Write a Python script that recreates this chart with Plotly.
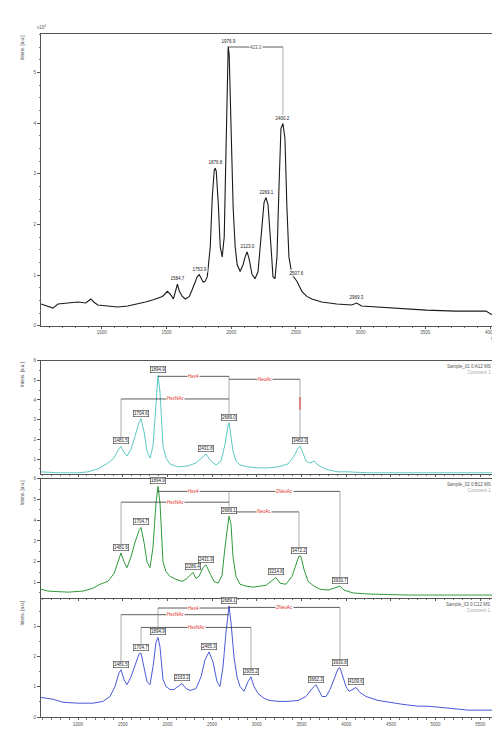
import plotly.graph_objects as go

# ---------------- top spectrum (black) ----------------
top_mz = [530.8, 584.6, 623.1, 661.5, 738.5, 815.4, 876.9, 915.4, 938.5, 969.2, 1046.2, 1123.1,
          1200, 1276.9, 1338.5, 1392.3, 1430.8, 1469.2, 1507.7, 1530.8, 1553.8, 1569.2, 1584.6,
          1600, 1623.1, 1646.2, 1676.9, 1700, 1723.1, 1738.5, 1753.8, 1769.2, 1784.6, 1800,
          1815.4, 1838.5, 1853.8, 1869.2, 1876.9, 1884.6, 1900, 1915.4, 1930.8, 1946.2, 1961.5,
          1969.2, 1976.9, 1984.6, 2000, 2015.4, 2030.8, 2046.2, 2069.2, 2092.3, 2107.7, 2123.1,
          2138.5, 2161.5, 2184.6, 2207.7, 2230.8, 2253.8, 2269.2, 2284.6, 2307.7, 2323.1, 2338.5,
          2353.8, 2369.2, 2384.6, 2400, 2415.4, 2430.8, 2446.2, 2469.2, 2492.3, 2507.7, 2523.1,
          2546.2, 2584.6, 2623.1, 2700, 2815.4, 2930.8, 2969.2, 3007.7, 3123.1, 3276.9, 3507.7,
          3738.5, 3892.3, 3969.2, 4007.7, 4076.9]
top_int = [0.43, 0.39, 0.35, 0.43, 0.45, 0.47, 0.45, 0.53, 0.47, 0.41, 0.39, 0.37,
           0.39, 0.43, 0.47, 0.51, 0.54, 0.58, 0.68, 0.62, 0.53, 0.66, 0.82,
           0.68, 0.58, 0.53, 0.58, 0.72, 0.88, 0.97, 1.01, 0.93, 0.86, 0.88,
           0.97, 1.56, 2.53, 3.07, 3.11, 3.05, 2.43, 1.56, 1.36, 1.75, 3.89,
           5.06, 5.51, 5.35, 3.89, 2.33, 1.56, 1.21, 1.07, 1.21, 1.36, 1.46,
           1.32, 1.01, 0.93, 1.07, 1.75, 2.43, 2.53, 2.39, 1.56, 0.97, 0.93,
           1.36, 2.72, 3.89, 3.99, 3.70, 2.33, 1.36, 1.01, 0.93, 0.88, 0.80,
           0.68, 0.58, 0.53, 0.47, 0.43, 0.41, 0.45, 0.39, 0.37, 0.35, 0.31,
           0.29, 0.29, 0.29, 0.23, 0.21]
top_peak_mz = [1584.6, 1753.8, 1876.9, 1976.9, 2123.1, 2269.2, 2400.0, 2507.7, 2969.2]
top_peak_int = [0.82, 1.01, 3.11, 5.51, 1.46, 2.53, 3.99, 0.93, 0.45]
top_peak_txt = ["1584.7", "1753.9", "1876.8", "1976.9", "2123.0", "2269.1", "2400.2", "2507.6", "2969.3"]
top_brackets = [(1976.9, 2400.0, 5.50, "423.3")]
top_drops = [(2400.0, 5.50, 4.15)]
top_xticks = [1000, 1500, 2000, 2500, 3000, 3500, 4000]

# ---------------- lower spectra (shared m/z axis) ----------------
low_xticks = [1000, 1500, 2000, 2500, 3000, 3500, 4000, 4500, 5000, 5500]

cyan_mz = [586.1, 776.3, 1000, 1111.9, 1223.7, 1335.6, 1402.7, 1447.4, 1481, 1514.6, 1548.1,
           1592.9, 1637.6, 1682.3, 1704.7, 1738.3, 1771.8, 1805.4, 1839, 1872.5, 1894.9, 1917.3,
           1950.8, 1984.4, 2029.1, 2118.6, 2230.5, 2320, 2375.9, 2431.8, 2487.7, 2543.7, 2599.6,
           2644.3, 2677.9, 2689.1, 2700.3, 2733.8, 2767.4, 2812.1, 2901.6, 3013.5, 3125.3, 3237.2,
           3349.1, 3416.2, 3460.9, 3483.3, 3516.9, 3550.4, 3595.2, 3639.9, 3684.6, 3740.6, 3796.5,
           3908.4, 4020.2, 4243.9, 4691.4, 5250.7, 5698.1]
cyan_int = [0.35, 0.30, 0.30, 0.35, 0.50, 0.80, 1.05, 1.45, 1.65, 1.35, 1.15,
            1.50, 2.15, 2.85, 3.05, 2.40, 1.40, 1.05, 1.65, 3.90, 5.25, 4.40,
            1.65, 1.05, 0.75, 0.60, 0.65, 0.80, 1.05, 1.25, 0.90, 0.70, 0.90,
            1.75, 2.70, 2.85, 2.50, 1.40, 0.90, 0.70, 0.60, 0.55, 0.55, 0.60,
            0.75, 1.15, 1.55, 1.65, 1.30, 0.90, 0.80, 0.90, 0.70, 0.55, 0.45,
            0.35, 0.35, 0.30, 0.30, 0.30, 0.30]
cyan_peak_mz = [1481.0, 1704.7, 1894.9, 2431.8, 2689.1, 3483.3]
cyan_peak_int = [1.65, 3.05, 5.25, 1.25, 2.85, 1.65]
cyan_peak_txt = ["1481.5", "1704.6", "1894.9", "2431.8", "2689.0", "3483.3"]
cyan_brackets = [(1894.9, 2689.1, 5.20, "Hex4"), (2689.1, 3483.3, 5.05, "NeuAc"),
                 (1481.0, 2689.1, 4.05, "HexNAc")]
cyan_drops = [(1481.0, 4.05, 2.05), (2689.1, 5.20, 3.25), (3483.3, 5.05, 2.05)]
cyan_marks = [(3483.3, 3.05)]

green_mz = [586.1, 664.4, 888.1, 1055.9, 1167.8, 1246.1, 1335.6, 1402.7, 1447.4, 1481, 1514.6,
            1548.1, 1592.9, 1637.6, 1682.3, 1704.7, 1738.3, 1771.8, 1805.4, 1839, 1872.5, 1894.9,
            1917.3, 1950.8, 1984.4, 2029.1, 2096.2, 2163.3, 2208.1, 2252.8, 2286.4, 2320, 2353.5,
            2398.3, 2431.8, 2476.6, 2521.3, 2566, 2610.8, 2644.3, 2689.1, 2711.5, 2733.8, 2767.4,
            2812.1, 2879.2, 2957.6, 3035.9, 3103, 3158.9, 3214.8, 3259.6, 3326.7, 3393.8, 3438.5,
            3472.1, 3494.5, 3528.1, 3572.8, 3639.9, 3707, 3796.5, 3863.6, 3930.7, 3975.5, 4076.2,
            4243.9, 4691.4, 5250.7, 5698.1]
green_int = [0.67, 0.58, 0.53, 0.58, 0.72, 0.91, 1.05, 1.43, 1.99, 2.42, 1.99,
             1.71, 2.23, 2.94, 3.50, 3.65, 2.94, 1.99, 1.71, 2.70, 4.83, 5.63,
             4.83, 1.99, 1.52, 1.29, 1.15, 1.05, 1.15, 1.33, 1.48, 1.19, 1.29,
             1.71, 1.85, 1.43, 1.05, 0.96, 1.33, 2.70, 4.20, 3.80, 2.23, 1.29,
             0.91, 0.82, 0.77, 0.82, 0.86, 1.05, 1.24, 0.96, 0.91, 1.29, 1.90,
             2.28, 2.23, 1.62, 1.05, 0.82, 0.67, 0.63, 0.72, 0.82, 0.63, 0.49,
             0.44, 0.39, 0.39, 0.39]
green_peak_mz = [1481.0, 1704.7, 1894.9, 2286.4, 2431.8, 2689.1, 3214.8, 3472.1, 3930.7]
green_peak_int = [2.42, 3.65, 5.63, 1.48, 1.85, 4.20, 1.24, 2.28, 0.82]
green_peak_txt = ["1481.6", "1704.7", "1894.9", "2286.4", "2431.9", "2689.1", "3214.8", "3472.2", "3930.7"]
green_brackets = [(1894.9, 2689.1, 5.39, "Hex4"), (2689.1, 3930.7, 5.39, "2NeuAc"),
                  (1481.0, 2689.1, 4.87, "HexNAc"), (2689.1, 3472.1, 4.40, "NeuAc")]
green_drops = [(1481.0, 4.87, 2.85), (2689.1, 5.39, 4.65), (3472.1, 4.40, 2.70),
               (3930.7, 5.39, 1.25)]

blue_mz = [586.1, 720.3, 832.2, 1000, 1167.8, 1279.7, 1358, 1413.9, 1458.6, 1481, 1514.6,
           1548.1, 1592.9, 1637.6, 1682.3, 1704.7, 1738.3, 1771.8, 1805.4, 1839, 1872.5, 1894.9,
           1917.3, 1950.8, 1984.4, 2029.1, 2073.9, 2118.6, 2163.3, 2208.1, 2252.8, 2320, 2375.9,
           2420.6, 2465.4, 2510.1, 2554.9, 2588.4, 2622, 2655.5, 2689.1, 2711.5, 2745, 2778.6,
           2812.1, 2856.9, 2901.6, 2935.2, 2968.7, 3013.5, 3080.6, 3147.7, 3237.2, 3349.1, 3460.9,
           3550.4, 3617.5, 3662.3, 3695.8, 3729.4, 3774.1, 3818.9, 3874.8, 3908.4, 3930.7, 3964.3,
           3997.8, 4031.4, 4076.2, 4109.7, 4154.5, 4221.6, 4355.8, 4467.7, 4635.5, 4803.2, 4915.1,
           5027, 5194.8, 5362.5, 5530.3, 5698.1]
blue_int = [0.65, 0.59, 0.49, 0.46, 0.46, 0.52, 0.68, 1.01, 1.46, 1.56, 1.24,
            1.07, 1.33, 1.72, 2.08, 2.11, 1.66, 1.17, 1.07, 1.66, 2.47, 2.63,
            2.31, 1.24, 1.01, 0.91, 0.91, 1.01, 1.11, 0.94, 0.88, 0.94, 1.33,
            1.89, 2.15, 1.82, 1.17, 1.01, 1.66, 2.80, 3.67, 3.12, 1.98, 1.33,
            1.01, 0.85, 1.17, 1.33, 1.01, 0.78, 0.62, 0.55, 0.52, 0.52, 0.55,
            0.68, 0.94, 1.07, 0.85, 0.68, 0.68, 0.91, 1.33, 1.59, 1.63, 1.33,
            1.01, 0.85, 0.91, 0.98, 0.81, 0.68, 0.55, 0.49, 0.42, 0.36, 0.36,
            0.33, 0.29, 0.23, 0.23, 0.23]
blue_peak_mz = [1481.0, 1704.7, 1894.9, 2163.3, 2465.4, 2689.1, 2935.2, 3662.3, 3930.7, 4109.7]
blue_peak_int = [1.56, 2.11, 2.63, 1.11, 2.15, 3.67, 1.33, 1.07, 1.63, 0.98]
blue_peak_txt = ["1481.5", "1704.7", "1894.9", "2163.2", "2465.3", "2689.1", "2935.2", "3662.3", "3930.8", "4109.6"]
blue_brackets = [(1894.9, 2689.1, 3.60, "Hex4"), (2689.1, 3930.7, 3.62, "2NeuAc"),
                 (1481.0, 2689.1, 3.38, "HexNAc"), (1704.7, 2935.2, 2.96, "HexNAc")]
blue_drops = [(1894.9, 3.60, 2.85), (1481.0, 3.38, 1.78), (1704.7, 2.96, 2.35),
              (2935.2, 2.96, 1.55), (3930.7, 3.62, 1.85)]

panel_titles = [("Sample_01 0:A12 MS", "Comment 1"),
                ("Sample_02 0:B12 MS", "Comment 1"),
                ("Sample_03 0:C12 MS", "Comment 1")]

# ---------------- figure ----------------
W, H = 500, 729
fig = go.Figure()
FONT = "Liberation Sans, Arial, sans-serif"

fig.add_trace(go.Scatter(x=top_mz, y=top_int, mode="lines", line=dict(color="#1a1a1a", width=1.1),
                         xaxis="x", yaxis="y", hoverinfo="skip"))
lower = [
    (cyan_mz, cyan_int, "#5cc9c2", cyan_peak_mz, cyan_peak_int, cyan_peak_txt, cyan_brackets, cyan_drops, "2"),
    (green_mz, green_int, "#2f9a3a", green_peak_mz, green_peak_int, green_peak_txt, green_brackets, green_drops, "3"),
    (blue_mz, blue_int, "#4a5ad8", blue_peak_mz, blue_peak_int, blue_peak_txt, blue_brackets, blue_drops, "4"),
]
for mz, it, col, pmz, pint, ptxt, brs, drops, k in lower:
    fig.add_trace(go.Scatter(x=mz, y=it, mode="lines", line=dict(color=col, width=1),
                             xaxis="x" + k, yaxis="y" + k, hoverinfo="skip"))

annotations = []
shapes = []


def add_peaks(xr, yr, pmz, pint, ptxt, boxed):
    for m, i, t in zip(pmz, pint, ptxt):
        ann = dict(x=m, y=i, xref=xr, yref=yr, text=t, showarrow=False,
                   yanchor="bottom", yshift=2,
                   font=dict(size=4.5, color="#222", family=FONT),
                   bgcolor="rgba(255,255,255,0.8)", borderpad=0.5)
        if boxed:
            ann["bordercolor"] = "#333"
            ann["borderwidth"] = 0.6
        annotations.append(ann)


def add_brackets(xr, yr, brs, drops, color_txt="#e0302a"):
    for x0, x1, lev, lab in brs:
        shapes.append(dict(type="line", xref=xr, yref=yr, x0=x0, x1=x1, y0=lev, y1=lev,
                           line=dict(color="#333", width=0.8)))
        annotations.append(dict(x=(x0 + x1) / 2, y=lev, xref=xr, yref=yr, text=lab,
                                showarrow=False, font=dict(size=4.5, color=color_txt, family=FONT),
                                bgcolor="white", borderpad=0))
    for x, y0, y1 in drops:
        shapes.append(dict(type="line", xref=xr, yref=yr, x0=x, x1=x, y0=y0, y1=y1,
                           line=dict(color="#777", width=0.6)))


add_peaks("x", "y", top_peak_mz, top_peak_int, top_peak_txt, False)
add_brackets("x", "y", top_brackets, top_drops, color_txt="#555")
for mz, it, col, pmz, pint, ptxt, brs, drops, k in lower:
    add_peaks("x" + k, "y" + k, pmz, pint, ptxt, True)
    add_brackets("x" + k, "y" + k, brs, drops)
for m, i in cyan_marks:
    shapes.append(dict(type="line", xref="x2", yref="y2", x0=m, x1=m, y0=i + 0.45, y1=i + 1.1,
                       line=dict(color="#e0302a", width=1)))


def ydom(top_px, bot_px):
    return [1 - bot_px / H, 1 - top_px / H]


xd_top = [33 / W, 492 / W]
xd_low = [33 / W, 490 / W]
yd = {"1": ydom(24, 318), "2": ydom(353, 467), "3": ydom(472, 592), "4": ydom(593, 712)}


def axis_common(tl=3):
    return dict(showline=True, linecolor="#555", linewidth=1, mirror=True, showgrid=False,
                zeroline=False, ticks="outside", ticklen=tl, tickwidth=0.7, tickcolor="#555",
                tickfont=dict(size=4.5, color="#555", family=FONT))


fig.update_layout(
    width=W, height=H, margin=dict(l=0, r=0, t=0, b=0),
    paper_bgcolor="white", plot_bgcolor="white", showlegend=False,
    xaxis=dict(domain=xd_top, anchor="y", range=[530.8, 4076.9], tickvals=top_xticks,
               minor=dict(ticks="outside", ticklen=1.5, dtick=100, tickcolor="#777"), **axis_common(2)),
    yaxis=dict(domain=yd["1"], anchor="x", range=[0, 5.76], tickvals=[0, 1, 2, 3, 4, 5],
               minor=dict(ticks="outside", ticklen=1.5, dtick=0.25, tickcolor="#777"), **axis_common()),
)
yr_low = {"2": [0.25, 6.0], "3": [0.25, 6.0], "4": [0, 3.9]}
for k in ["2", "3", "4"]:
    xa = dict(domain=xd_low, anchor="y" + k, range=[586.1, 5698.1], tickvals=low_xticks,
              minor=dict(ticks="outside", ticklen=1.5, dtick=100, tickcolor="#777"), **axis_common(2))
    if k != "4":
        xa["matches"] = "x4"
        xa["showticklabels"] = False
    fig.update_layout(**{"xaxis" + k: xa})
    ya = dict(domain=yd[k], anchor="x" + k, range=yr_low[k],
              tickvals=[1, 2, 3, 4, 5, 6] if k != "4" else [0, 1, 2, 3],
              minor=dict(ticks="outside", ticklen=1.5, dtick=0.5, tickcolor="#777"), **axis_common())
    fig.update_layout(**{"yaxis" + k: ya})

small = dict(size=4.5, color="#555", family=FONT)
annotations.append(dict(x=0.028, y=yd["1"][1], xref="paper", yref="paper", text="Intens. [a.u.]",
                        textangle=-90, showarrow=False, xanchor="center", yanchor="top", font=small))
annotations.append(dict(x=xd_top[0], y=yd["1"][1], xref="paper", yref="paper", text="x10<sup>4</sup>",
                        showarrow=False, xanchor="center", yanchor="bottom", yshift=2, font=small))
annotations.append(dict(x=0.985, y=yd["1"][0], xref="paper", yref="paper", text="m/z",
                        showarrow=False, xanchor="right", yanchor="top", yshift=-8, font=small))
annotations.append(dict(x=0.99, y=yd["4"][0], xref="paper", yref="paper", text="m/z",
                        showarrow=False, xanchor="right", yanchor="top", yshift=-2, font=small))
for k, (t1, t2) in zip(["2", "3", "4"], panel_titles):
    annotations.append(dict(x=0.028, y=yd[k][1], xref="paper", yref="paper", text="Intens. [a.u.]",
                            textangle=-90, showarrow=False, xanchor="center", yanchor="top", font=small))
    annotations.append(dict(x=0.97, y=yd[k][1], xref="paper", yref="paper",
                            text=t1 + "<br><span style='color:#aaa'>" + t2 + "</span>",
                            showarrow=False, xanchor="right", yanchor="top", align="right",
                            yshift=-1, font=small))

fig.update_layout(annotations=annotations, shapes=shapes)
fig.write_html("out.html")
